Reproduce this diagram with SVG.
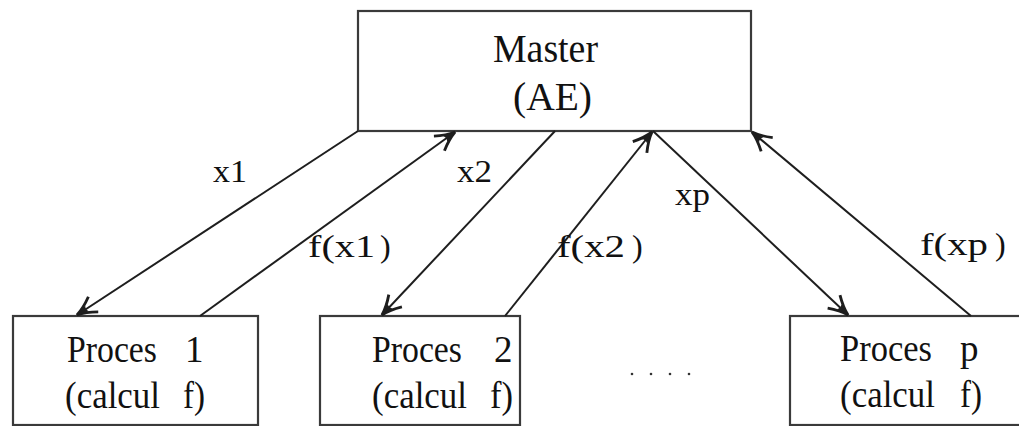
<svg xmlns="http://www.w3.org/2000/svg" width="1019" height="426" viewBox="0 0 1019 426">
<style>
.box{fill:#fff;stroke:#3a3a3a;stroke-width:2.2}
.conn{stroke:#1e1e1e;stroke-width:2;fill:none;marker-end:url(#arr)}
text{font-family:"Liberation Serif","Times New Roman",serif;fill:#111}
.big{font-size:40px}
.mid{font-size:37px}
.lab{font-size:32px}
</style>
<defs>
<marker id="arr" markerUnits="userSpaceOnUse" markerWidth="24" markerHeight="24" viewBox="-14 -8 16 16" refX="0" refY="0" orient="auto">
<path d="M -13 -6 Q -6 -1.5 0 0 Q -6 1.5 -13 6" fill="none" stroke="#1e1e1e" stroke-width="1.9"/>
<path d="M -8 -2.2 L 0 0 L -8 2.2 Q -6.5 0 -8 -2.2 Z" fill="#1e1e1e"/>
</marker>
</defs>
<rect width="1019" height="426" fill="#fff"/>
<g id="master">
<rect class="box" x="358" y="11" width="393" height="120"/>
<text class="big" x="493" y="62" textLength="105" lengthAdjust="spacingAndGlyphs">Master</text>
<text class="big" x="513" y="110" textLength="79" lengthAdjust="spacingAndGlyphs">(AE)</text>
</g>
<g id="proces1">
<rect class="box" x="13" y="316" width="245" height="109"/>
<text class="mid" y="362"><tspan x="67" textLength="90" lengthAdjust="spacingAndGlyphs">Proces</tspan><tspan x="185">1</tspan></text>
<text class="mid" y="408"><tspan x="65" textLength="95" lengthAdjust="spacingAndGlyphs">(calcul</tspan><tspan x="183" textLength="22" lengthAdjust="spacingAndGlyphs">f)</tspan></text>
</g>
<g id="proces2">
<rect class="box" x="320" y="316" width="200" height="109"/>
<text class="mid" y="362"><tspan x="372" textLength="90" lengthAdjust="spacingAndGlyphs">Proces</tspan><tspan x="494">2</tspan></text>
<text class="mid" y="408"><tspan x="372" textLength="95" lengthAdjust="spacingAndGlyphs">(calcul</tspan><tspan x="490" textLength="23" lengthAdjust="spacingAndGlyphs">f)</tspan></text>
</g>
<g id="procesp">
<rect class="box" x="790" y="316" width="240" height="109"/>
<text class="mid" y="361"><tspan x="840" textLength="92" lengthAdjust="spacingAndGlyphs">Proces</tspan><tspan x="960">p</tspan></text>
<text class="mid" y="407"><tspan x="840" textLength="95" lengthAdjust="spacingAndGlyphs">(calcul</tspan><tspan x="960" textLength="22" lengthAdjust="spacingAndGlyphs">f)</tspan></text>
</g>
<g id="dots" fill="#333">
<circle cx="632" cy="374" r="1.3"/>
<circle cx="651" cy="374" r="1.3"/>
<circle cx="670" cy="374" r="1.3"/>
<circle cx="689" cy="374" r="1.3"/>
</g>
<g id="connectors">
<line class="conn" x1="358" y1="131" x2="77" y2="315"/>
<line class="conn" x1="200" y1="316" x2="455" y2="132"/>
<line class="conn" x1="555" y1="131" x2="382" y2="315"/>
<line class="conn" x1="505" y1="316" x2="652" y2="132"/>
<line class="conn" x1="653" y1="131" x2="848" y2="315"/>
<line class="conn" x1="971" y1="316" x2="752" y2="132"/>
</g>
<g id="labels">
<text class="lab" x="213" y="182" textLength="34" lengthAdjust="spacingAndGlyphs">x1</text>
<text class="lab" y="257"><tspan x="308" textLength="67" lengthAdjust="spacingAndGlyphs">f(x1</tspan><tspan x="380">)</tspan></text>
<text class="lab" x="457" y="182" textLength="35" lengthAdjust="spacingAndGlyphs">x2</text>
<text class="lab" y="257"><tspan x="557" textLength="68" lengthAdjust="spacingAndGlyphs">f(x2</tspan><tspan x="632">)</tspan></text>
<text class="lab" x="675" y="205" textLength="35" lengthAdjust="spacingAndGlyphs">xp</text>
<text class="lab" y="255"><tspan x="920" textLength="68" lengthAdjust="spacingAndGlyphs">f(xp</tspan><tspan x="995">)</tspan></text>
</g>
</svg>
